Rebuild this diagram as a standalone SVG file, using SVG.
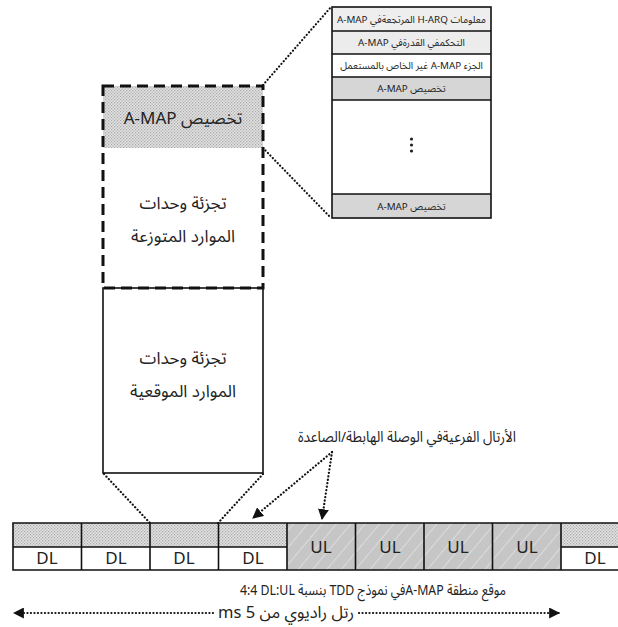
<svg xmlns="http://www.w3.org/2000/svg" width="618" height="627" viewBox="0 0 618 627">
  <defs>
    <style>
      text { font-family: "Noto Sans", "Noto Sans Arabic", "DejaVu Sans", sans-serif; fill: #222; text-anchor: middle; }
      .ar { direction: rtl; unicode-bidi: embed; }
      .big { font-size: 17px; }
      .mid { font-size: 15px; }
      .small { font-size: 9.8px; }
      .cell { font-size: 17px; }
      .frame { fill: none; stroke: #111; stroke-width: 1.6; }
      .dotted { fill: none; stroke: #111; stroke-width: 2.2; stroke-dasharray: 0.1 3.4; stroke-linecap: round; }
      .dash { fill: none; stroke: #111; stroke-width: 3; stroke-dasharray: 11 6; }
    </style>
    <pattern id="stipple" width="3" height="3" patternUnits="userSpaceOnUse">
      <rect width="3" height="3" fill="#e2e2e2"/>
      <rect x="0" y="0" width="1.2" height="1.2" fill="#a8a8a8"/>
      <rect x="1.5" y="1.5" width="1.2" height="1.2" fill="#a8a8a8"/>
    </pattern>
    <pattern id="hatch" width="11" height="11" patternUnits="userSpaceOnUse" patternTransform="rotate(40)">
      <rect width="11" height="11" fill="#c6c6c6"/>
      <line x1="0" y1="0" x2="0" y2="11" stroke="#f2f2f2" stroke-width="1"/>
    </pattern>
    <marker id="head" viewBox="0 0 10 10" refX="9" refY="5" markerWidth="11" markerHeight="11" markerUnits="userSpaceOnUse" orient="auto">
      <path d="M0,0 L10,5 L0,10 z" fill="#111"/>
    </marker>
  </defs>

  <!-- A-MAP detail stack -->
  <g id="amap-detail">
    <rect x="332" y="7" width="159" height="24" fill="#eeeeee"/>
    <rect x="332" y="31" width="159" height="23" fill="#ececec"/>
    <rect x="332" y="54" width="159" height="23" fill="#ffffff"/>
    <rect x="332" y="77" width="159" height="23" fill="#d6d6d6"/>
    <rect x="332" y="100" width="159" height="94" fill="#ffffff"/>
    <rect x="332" y="194" width="159" height="24" fill="#d6d6d6"/>
    <rect class="frame" x="332" y="7" width="159" height="211"/>
    <path class="frame" d="M332,31 H491 M332,54 H491 M332,77 H491 M332,100 H491 M332,194 H491"/>
    <text class="small ar" x="411.5" y="22.5">معلومات H-ARQ المرتجعةفي A-MAP</text>
    <text class="small ar" x="411.5" y="46">التحكمفي القدرةفي A-MAP</text>
    <text class="small ar" x="411.5" y="69">الجزء A-MAP غير الخاص بالمستعمل</text>
    <text class="small ar" x="411.5" y="92">تخصيص A-MAP</text>
    <circle cx="411.5" cy="139" r="1.6" fill="#222"/>
    <circle cx="411.5" cy="145" r="1.6" fill="#222"/>
    <circle cx="411.5" cy="151" r="1.6" fill="#222"/>
    <text class="small ar" x="411.5" y="210">تخصيص A-MAP</text>
  </g>

  <!-- Distributed resource unit partition -->
  <g id="distributed">
    <rect x="103" y="86" width="160" height="62" fill="url(#stipple)"/>
    <text class="big ar" x="183" y="124">تخصيص A-MAP</text>
    <text class="big ar" x="183" y="209">تجزئة وحدات</text>
    <text class="big ar" x="183" y="242">الموارد المتوزعة</text>
  </g>

  <!-- Localized resource unit partition -->
  <g id="localized">
    <rect class="frame" x="103" y="288" width="160" height="185" fill="#fff"/>
    <text class="big ar" x="183" y="364">تجزئة وحدات</text>
    <text class="big ar" x="183" y="397">الموارد الموقعية</text>
  </g>
  <rect class="dash" x="103" y="86" width="160" height="202"/>

  <!-- Frame bar -->
  <g id="frame-bar">
    <rect x="13" y="523" width="274" height="24" fill="url(#stipple)"/>
    <rect x="13" y="547" width="274" height="23" fill="#fff"/>
    <rect x="287" y="523" width="274" height="47" fill="url(#hatch)"/>
    <rect x="561" y="523" width="60" height="24" fill="url(#stipple)"/>
    <rect x="561" y="547" width="60" height="23" fill="#fff"/>
    <path class="frame" d="M620,523 H13 V570 H620 M13,547 H287 M561,547 H620"/>
    <path class="frame" d="M81.5,523 V570 M150,523 V570 M218.5,523 V570 M287,523 V570 M355.5,523 V570 M424,523 V570 M492.5,523 V570 M561,523 V570"/>
    <text class="cell" x="47" y="564">DL</text>
    <text class="cell" x="116" y="564">DL</text>
    <text class="cell" x="184" y="564">DL</text>
    <text class="cell" x="253" y="564">DL</text>
    <text class="cell" x="321" y="553">UL</text>
    <text class="cell" x="390" y="553">UL</text>
    <text class="cell" x="458" y="553">UL</text>
    <text class="cell" x="527" y="553">UL</text>
    <text class="cell" x="595" y="564">DL</text>
  </g>

  <!-- Labels -->
  <text class="mid ar" x="407" y="442" textLength="218" lengthAdjust="spacingAndGlyphs">الأرتال الفرعيةفي الوصلة الهابطة/الصاعدة</text>
  <text class="mid ar" x="373" y="595" textLength="266" lengthAdjust="spacingAndGlyphs">موقع منطقة A-MAPفي نموذج TDD بنسبة DL:UL&#x200F; 4:4</text>
  <text class="ar" x="286" y="618" style="font-size:16.5px">رتل راديوي من 5 ms</text>

  <!-- Connectors -->
  <g id="connectors">
    <path class="dotted" d="M263,85 L331,7"/>
    <path class="dotted" d="M263,148 L331,218"/>
    <path class="dotted" d="M104,474 L150,523"/>
    <path class="dotted" d="M263,474 L218,523"/>
    <path class="dotted" d="M332,452 L253,518" marker-end="url(#head)"/>
    <path class="dotted" d="M332,452 L322,519" marker-end="url(#head)"/>
    <path class="dotted" d="M213,613 L14,613" marker-end="url(#head)"/>
    <path class="dotted" d="M359,613 L559,613" marker-end="url(#head)"/>
  </g>
</svg>
